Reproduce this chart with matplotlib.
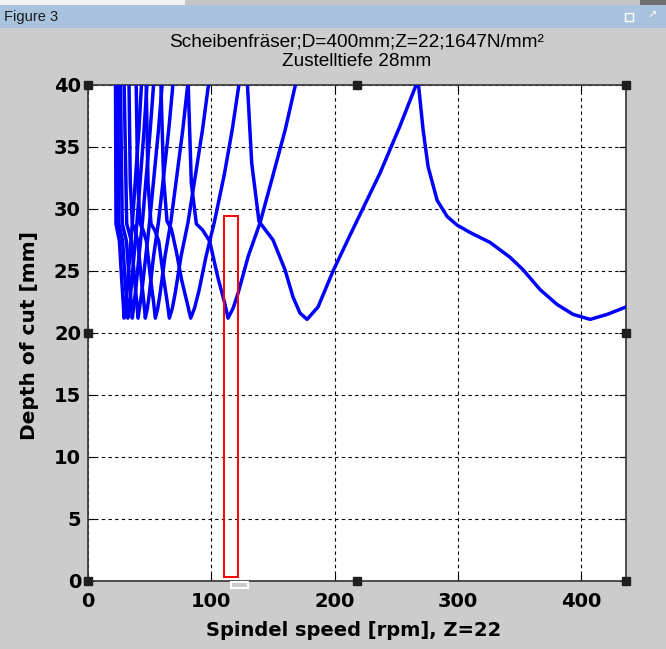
import matplotlib
matplotlib.use('Agg')
import matplotlib.pyplot as plt
from matplotlib.patches import Rectangle

plt.rcParams['font.family'] = ['Liberation Sans', 'DejaVu Sans']

window_title = 'Figure 3'
title_line1 = 'Scheibenfräser;D=400mm;Z=22;1647N/mm²'
title_line2 = 'Zustelltiefe 28mm'
x_label = 'Spindel speed [rpm], Z=22'
y_label = 'Depth of cut [mm]'

x_ticks = [0, 100, 200, 300, 400]
y_ticks = [0, 5, 10, 15, 20, 25, 30, 35, 40]
x_max = 436
y_max = 40

# stability lobes (speed in rpm, depth in mm)
lobe0_x = [267.7, 271.8, 275.9, 283.2, 291.3, 299.4, 310.0, 326.2, 342.4, 352.9, 366.7, 380.5, 393.5, 407.3, 421.1, 436.5]
lobe0_y = [40.4, 36.4, 33.4, 30.7, 29.4, 28.7, 28.1, 27.3, 26.1, 25.1, 23.5, 22.3, 21.5, 21.1, 21.5, 22.1]

lobe1_x = [129.0, 132.8, 138.7, 144.0, 150.1, 159.8, 166.3, 172.0, 177.7, 186.6, 198.8, 212.6, 236.9, 253.1, 267.7]
lobe1_y = [40.6, 33.7, 29.0, 28.3, 27.5, 25.1, 22.9, 21.6, 21.1, 22.1, 25.0, 27.9, 32.9, 36.7, 40.4]

lobe2_x = [81.1, 83.8, 87.9, 93.0, 98.7, 105.3, 110.9, 113.6, 117.7, 121.7, 130.0, 139.6, 150.0, 160.0, 169.6]
lobe2_y = [40.6, 32.1, 28.8, 28.3, 27.4, 24.5, 22.4, 21.2, 22.0, 23.2, 26.2, 28.9, 32.7, 36.4, 40.6]

lobe3_x = [59.0, 61.3, 64.1, 67.6, 71.6, 75.9, 80.5, 83.3, 86.4, 90.0, 95.8, 98.7, 102.4, 110.6, 117.0, 123.3]
lobe3_y = [40.6, 32.5, 29.0, 28.4, 26.6, 24.3, 22.4, 21.2, 22.0, 23.4, 26.2, 27.4, 28.9, 32.8, 36.4, 40.6]

lobe4_x = [47.1, 48.7, 51.1, 54.1, 57.4, 61.2, 64.4, 66.0, 68.4, 70.7, 75.5, 81.1, 87.1, 92.9, 98.5]
lobe4_y = [40.6, 32.1, 28.8, 28.3, 27.4, 24.5, 22.4, 21.2, 22.0, 23.2, 26.2, 28.9, 32.7, 36.4, 40.6]

lobe5_x = [39.0, 40.3, 42.3, 44.7, 47.4, 50.6, 53.3, 54.6, 56.6, 58.5, 62.5, 67.1, 72.1, 76.9, 81.5]
lobe5_y = [40.6, 32.1, 28.8, 28.3, 27.4, 24.5, 22.4, 21.2, 22.0, 23.2, 26.2, 28.9, 32.7, 36.4, 40.6]

lobe6_x = [33.2, 34.3, 36.0, 38.1, 40.4, 43.1, 45.4, 46.5, 48.2, 49.8, 53.2, 57.1, 61.4, 65.5, 69.4]
lobe6_y = [40.6, 32.1, 28.8, 28.3, 27.4, 24.5, 22.4, 21.2, 22.0, 23.2, 26.2, 28.9, 32.7, 36.4, 40.6]

lobe7_x = [29.2, 31.4, 35.3, 37.6, 39.6, 40.6, 43.5, 49.9, 57.2, 60.6]
lobe7_y = [40.6, 28.8, 27.4, 24.5, 22.4, 21.2, 23.2, 28.9, 36.4, 40.6]

lobe8_x = [26.2, 27.8, 31.2, 33.3, 35.0, 35.9, 38.4, 44.1, 50.5, 53.6]
lobe8_y = [40.6, 28.8, 27.4, 24.5, 22.4, 21.2, 23.2, 28.9, 36.4, 40.6]

lobe9_x = [24.1, 25.0, 28.1, 29.9, 31.5, 32.3, 34.6, 39.7, 45.5, 48.2]
lobe9_y = [40.6, 28.8, 27.4, 24.5, 22.4, 21.2, 23.2, 28.9, 36.4, 40.6]

lobe10_x = [22.3, 22.7, 25.5, 27.2, 28.6, 29.3, 31.4, 36.0, 41.3, 43.7]
lobe10_y = [40.6, 28.8, 27.4, 24.5, 22.4, 21.2, 23.2, 28.9, 36.4, 40.6]

lobes = [(lobe0_x, lobe0_y), (lobe1_x, lobe1_y), (lobe2_x, lobe2_y),
         (lobe3_x, lobe3_y), (lobe4_x, lobe4_y), (lobe5_x, lobe5_y),
         (lobe6_x, lobe6_y), (lobe7_x, lobe7_y), (lobe8_x, lobe8_y),
         (lobe9_x, lobe9_y), (lobe10_x, lobe10_y)]

# marked speed window (red box)
box_x = [110, 122]
box_y = [0.3, 29.4]

W, H = 666, 649
fig = plt.figure(figsize=(W / 100, H / 100), dpi=100, facecolor='#cccccc')

# window chrome
fig.add_artist(Rectangle((0, 1 - 5 / H), 1, 5 / H, transform=fig.transFigure,
                         facecolor='#c4c4c4', edgecolor='none'))
fig.add_artist(Rectangle((0, 1 - 5 / H), 185 / W, 5 / H, transform=fig.transFigure,
                         facecolor='#f2f2f2', edgecolor='none'))
fig.add_artist(Rectangle((640 / W, 1 - 5 / H), 26 / W, 5 / H, transform=fig.transFigure,
                         facecolor='#6e6e6e', edgecolor='none'))
fig.add_artist(Rectangle((0, 1 - 28 / H), 1, 23 / H, transform=fig.transFigure,
                         facecolor='#a9c3df', edgecolor='none'))
fig.text(4 / W, 1 - 17 / H, window_title, fontsize=10.5, color='#1a1a1a',
         ha='left', va='center')
fig.add_artist(Rectangle((625 / W, 1 - 21 / H), 8 / W, 8 / H, transform=fig.transFigure,
                         fill=False, edgecolor='white', lw=1))
fig.text(652 / W, 1 - 16 / H, '↗', fontsize=8, color='white', ha='center', va='center',
         family='DejaVu Sans')

ax = fig.add_axes([88 / W, 1 - 581 / H, (625.5 - 88) / W, (581 - 85) / H])
ax.set_facecolor('white')

for xs, ys in lobes:
    ax.plot(xs, ys, color='#0000ff', lw=2.5, solid_joinstyle='round', zorder=3)

ax.add_patch(Rectangle((box_x[0], box_y[0]), box_x[1] - box_x[0], box_y[1] - box_y[0],
                       fill=False, edgecolor='#ff0000', lw=1.4, zorder=4))

ax.set_xlim(0, x_max)
ax.set_ylim(0, y_max)
ax.set_xticks(x_ticks)
ax.set_yticks(y_ticks)
ax.grid(True, color='black', linestyle=(0, (3, 3)), linewidth=0.8)
ax.tick_params(direction='in', length=5, width=0.8, top=True, right=True)
ax.tick_params(axis='x', pad=8)
ax.tick_params(axis='y', pad=5)
for lab in ax.get_xticklabels() + ax.get_yticklabels():
    lab.set_family('DejaVu Sans')
    lab.set_fontweight('bold')
    lab.set_fontsize(14)
for sp in ax.spines.values():
    sp.set_color('#404040')
    sp.set_linewidth(1.3)

# selection handles around the axes
hx = [0, 0.5, 1, 0, 1, 0, 0.5, 1]
hy = [0, 0, 0, 0.5, 0.5, 1, 1, 1]
ax.plot(hx, hy, 's', transform=ax.transAxes, clip_on=False, ms=5.8,
        color='#1e1e1e', zorder=6)

fig.add_artist(Rectangle((231 / W, 1 - 588 / H), 17 / W, 6 / H, transform=fig.transFigure,
                         fill=False, edgecolor='white', lw=1.5))

fig.text(357 / W, 1 - 42 / H, title_line1, fontsize=13.7, ha='center', va='center')
fig.text(357 / W, 1 - 62 / H, title_line2, fontsize=13.7, ha='center', va='center')
fig.text(354 / W, 1 - 636 / H, x_label, fontsize=14, fontweight='bold',
         family='DejaVu Sans', ha='center', va='baseline')
fig.text(30 / W, 1 - 335 / H, y_label, fontsize=14.5, fontweight='bold',
         family='DejaVu Sans', rotation=90, ha='center', va='center')

fig.savefig('out.png', dpi=100, facecolor=fig.get_facecolor())
